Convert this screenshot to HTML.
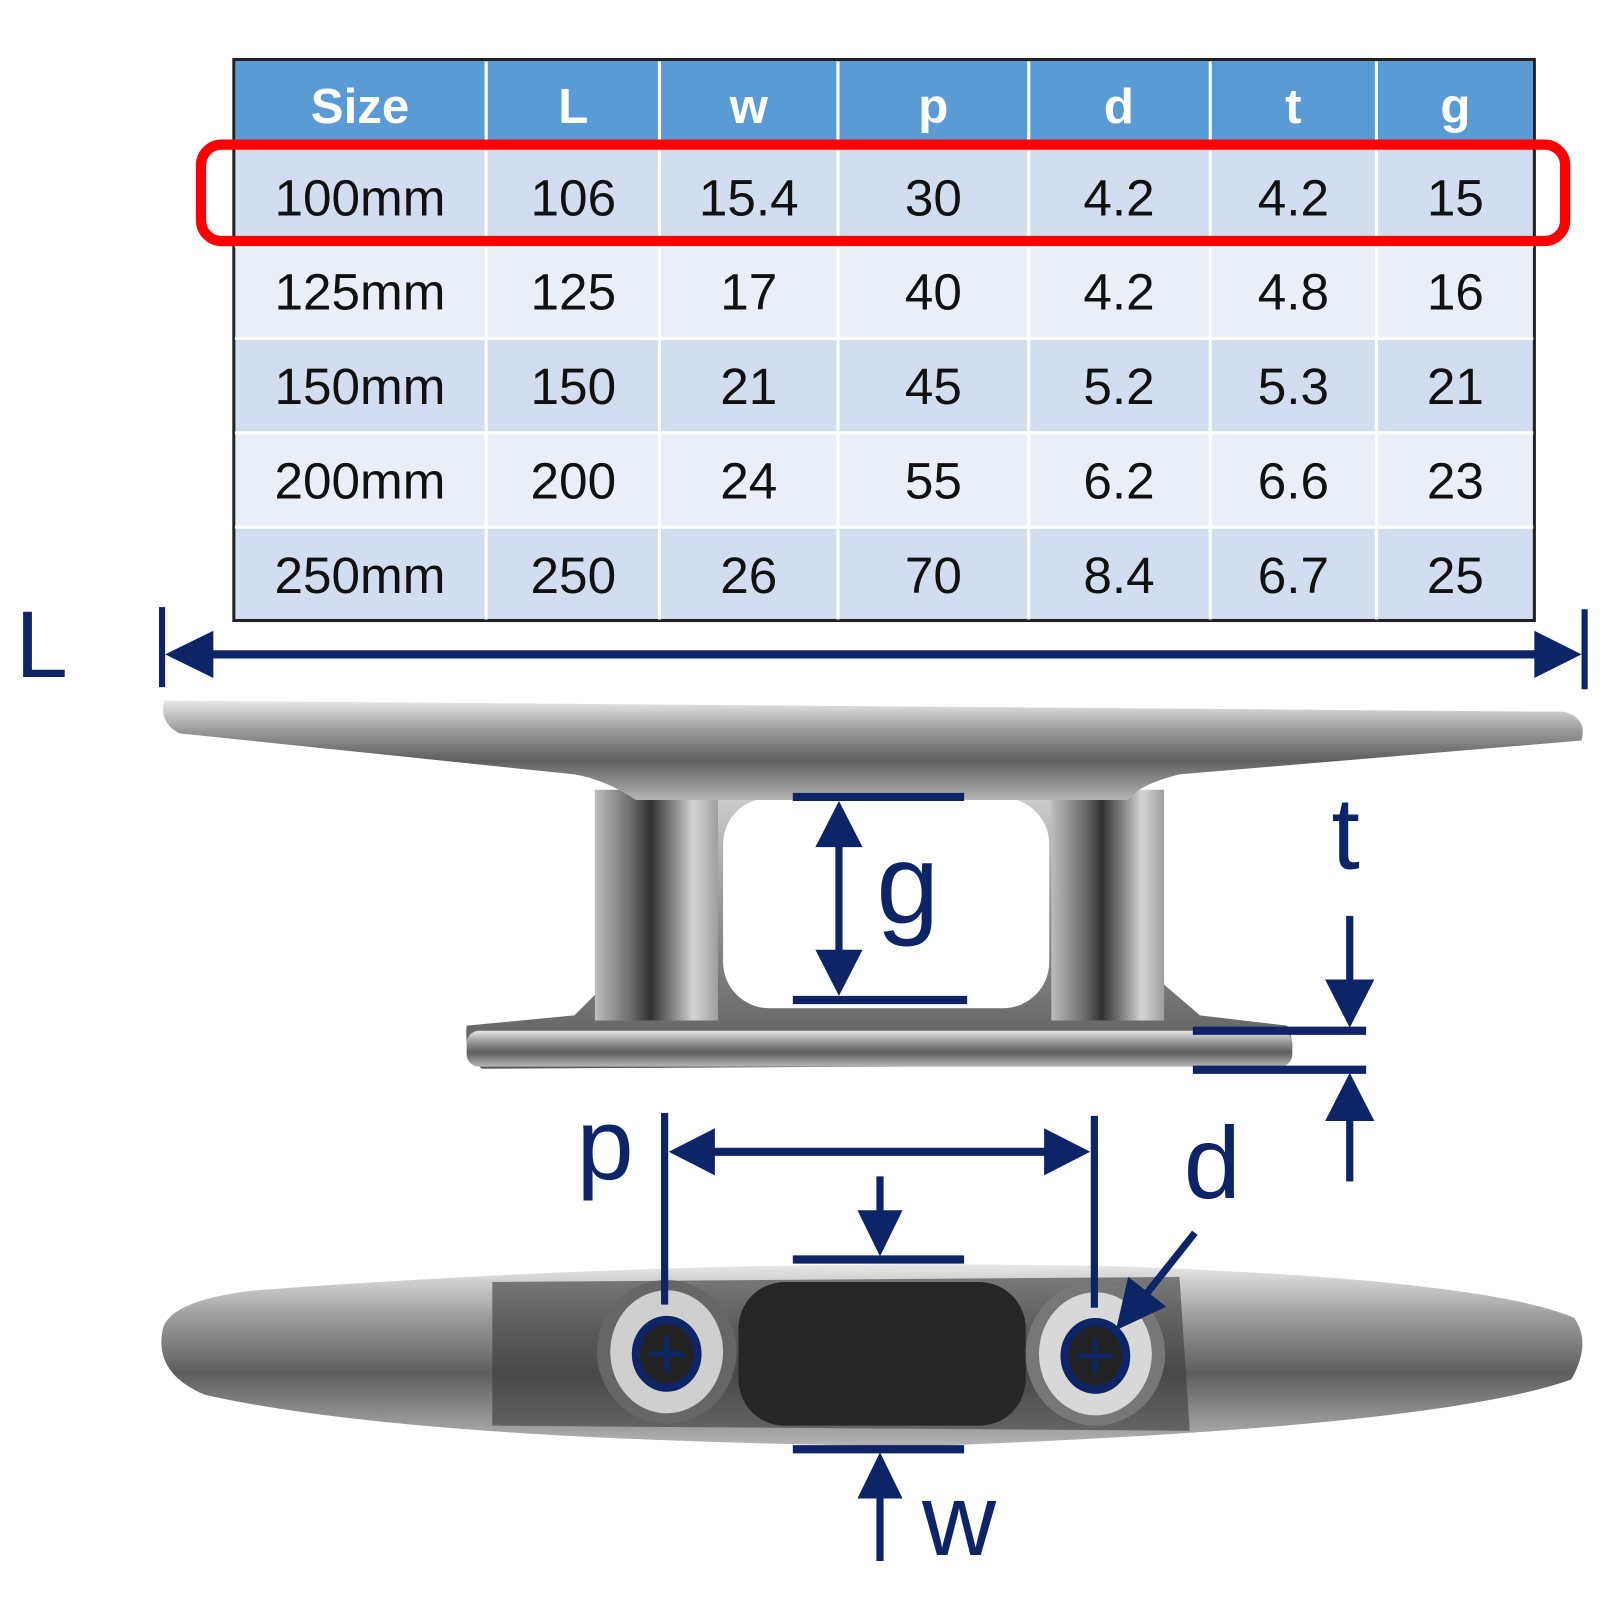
<!DOCTYPE html>
<html><head><meta charset="utf-8"><style>
html,body{margin:0;padding:0;background:#fff;}
svg{display:block;}
text{font-family:"Liberation Sans",sans-serif;}
</style></head><body>
<svg width="1600" height="1600" viewBox="0 0 1560 1560" xmlns="http://www.w3.org/2000/svg">
<defs>
<linearGradient id="m1" x1="0" y1="0" x2="0" y2="1">
<stop offset="0" stop-color="#e8e8e8"/><stop offset="0.3" stop-color="#9a9a9a"/><stop offset="0.6" stop-color="#5e5e5e"/><stop offset="1" stop-color="#b5b5b5"/></linearGradient>
<linearGradient id="m2" x1="0" y1="0" x2="1" y2="0">
<stop offset="0" stop-color="#bdbdbd"/><stop offset="0.3" stop-color="#6a6a6a"/><stop offset="0.45" stop-color="#303030"/><stop offset="0.65" stop-color="#8a8a8a"/><stop offset="0.8" stop-color="#d5d5d5"/><stop offset="1" stop-color="#9e9e9e"/></linearGradient>
<linearGradient id="m3" x1="0" y1="0" x2="0" y2="1">
<stop offset="0" stop-color="#d0d0d0"/><stop offset="0.5" stop-color="#8d8d8d"/><stop offset="1" stop-color="#5a5a5a"/></linearGradient>
</defs>

<!-- table -->
<rect x="228" y="58" width="1268" height="547" fill="#d2deef" stroke="#222" stroke-width="3"/>
<rect x="229.5" y="59.5" width="1265" height="78" fill="#5b9bd5"/>
<rect x="229.5" y="240" width="1265" height="90" fill="#eaeff7"/>
<rect x="229.5" y="422" width="1265" height="92" fill="#eaeff7"/>
<g stroke="#fff" stroke-width="3">
<line x1="229" y1="138" x2="1495" y2="138"/>
<line x1="229" y1="240" x2="1495" y2="240"/>
<line x1="229" y1="330" x2="1495" y2="330"/>
<line x1="229" y1="422" x2="1495" y2="422"/>
<line x1="229" y1="514" x2="1495" y2="514"/>
<line x1="474" y1="60" x2="474" y2="604"/>
<line x1="643" y1="60" x2="643" y2="604"/>
<line x1="817" y1="60" x2="817" y2="604"/>
<line x1="1003" y1="60" x2="1003" y2="604"/>
<line x1="1180" y1="60" x2="1180" y2="604"/>
<line x1="1342" y1="60" x2="1342" y2="604"/>
</g>
<g font-size="48" font-weight="bold" fill="#fff" text-anchor="middle">
<text x="351" y="120">Size</text><text x="559" y="120">L</text><text x="730" y="120">w</text><text x="910" y="120">p</text><text x="1091" y="120">d</text><text x="1261" y="120">t</text><text x="1419" y="120">g</text>
</g>
<g font-size="50" fill="#111" text-anchor="middle">
<text x="351" y="210">100mm</text><text x="559" y="210">106</text><text x="730" y="210">15.4</text><text x="910" y="210">30</text><text x="1091" y="210">4.2</text><text x="1261" y="210">4.2</text><text x="1419" y="210">15</text>
<text x="351" y="302">125mm</text><text x="559" y="302">125</text><text x="730" y="302">17</text><text x="910" y="302">40</text><text x="1091" y="302">4.2</text><text x="1261" y="302">4.8</text><text x="1419" y="302">16</text>
<text x="351" y="394">150mm</text><text x="559" y="394">150</text><text x="730" y="394">21</text><text x="910" y="394">45</text><text x="1091" y="394">5.2</text><text x="1261" y="394">5.3</text><text x="1419" y="394">21</text>
<text x="351" y="486">200mm</text><text x="559" y="486">200</text><text x="730" y="486">24</text><text x="910" y="486">55</text><text x="1091" y="486">6.2</text><text x="1261" y="486">6.6</text><text x="1419" y="486">23</text>
<text x="351" y="578">250mm</text><text x="559" y="578">250</text><text x="730" y="578">26</text><text x="910" y="578">70</text><text x="1091" y="578">8.4</text><text x="1261" y="578">6.7</text><text x="1419" y="578">25</text>
</g>
<rect x="196" y="141" width="1330" height="94" rx="20" fill="none" stroke="#f00" stroke-width="10"/>

<!-- cleat side view -->
<path d="M455,1000 L560,990 L590,960 L580,780 L700,770 L1030,770 L1130,780 L1135,960 L1170,990 L1255,1000 Q1265,1020 1255,1038 L470,1042 Q452,1030 455,1000Z" fill="url(#m3)"/>
<rect x="580" y="770" width="120" height="225" fill="url(#m2)"/>
<rect x="1025" y="770" width="110" height="225" fill="url(#m2)"/>
<rect x="705" y="778" width="318" height="205" rx="45" fill="#fff"/>
<rect x="455" y="1005" width="805" height="35" rx="12" fill="url(#m1)"/>
<path d="M160,683 L1525,694 Q1548,700 1542,722 L1150,755 Q1110,765 1100,780 L620,780 Q590,760 560,755 L175,715 Q155,705 160,683Z" fill="url(#m1)"/>

<!-- cleat top view -->
<path d="M158,1300 Q160,1268 250,1258 Q700,1225 1100,1235 Q1450,1248 1535,1285 Q1552,1310 1532,1345 Q1400,1392 900,1410 Q400,1405 200,1360 Q152,1340 158,1300Z" fill="url(#m1)"/>
<path d="M480,1250 L1150,1245 L1160,1395 L480,1390Z" fill="#3a3a3a" opacity="0.6"/>
<rect x="720" y="1250" width="280" height="140" rx="45" fill="#262626"/>
<ellipse cx="650" cy="1318" rx="68" ry="70" fill="#666"/>
<ellipse cx="650" cy="1318" rx="55" ry="60" fill="#cfcfcf"/>
<ellipse cx="1068" cy="1320" rx="68" ry="70" fill="#777"/>
<ellipse cx="1068" cy="1320" rx="55" ry="60" fill="#d8d8d8"/>

<!-- navy annotations -->
<g fill="#0d2466" stroke="#0d2466">
<text x="15" y="660" font-size="92" stroke="none">L</text>
<line x1="158" y1="592" x2="158" y2="670" stroke-width="6"/>
<line x1="1545" y1="594" x2="1545" y2="672" stroke-width="6"/>
<line x1="200" y1="638" x2="1505" y2="638" stroke-width="8"/>
<polygon points="161,638 208,615 208,661" stroke="none"/>
<polygon points="1542,638 1496,615 1496,661" stroke="none"/>

<line x1="773" y1="777" x2="940" y2="777" stroke-width="8"/>
<line x1="773" y1="975" x2="943" y2="975" stroke-width="8"/>
<line x1="818" y1="815" x2="818" y2="935" stroke-width="7"/>
<polygon points="818,781 795,826 841,826" stroke="none"/>
<polygon points="818,971 795,926 841,926" stroke="none"/>
<text x="885" y="900" font-size="110" text-anchor="middle" stroke="none">g</text>

<text x="1312" y="847" font-size="100" text-anchor="middle" stroke="none">t</text>
<line x1="1316" y1="893" x2="1316" y2="965" stroke-width="7"/>
<polygon points="1316,1002 1292,955 1340,955" stroke="none"/>
<line x1="1163" y1="1005" x2="1332" y2="1005" stroke-width="8"/>
<line x1="1163" y1="1043" x2="1332" y2="1043" stroke-width="8"/>
<polygon points="1316,1046 1292,1093 1340,1093" stroke="none"/>
<line x1="1316" y1="1085" x2="1316" y2="1152" stroke-width="7"/>

<line x1="648" y1="1085" x2="648" y2="1272" stroke-width="7"/>
<line x1="1067" y1="1088" x2="1067" y2="1275" stroke-width="7"/>
<line x1="690" y1="1123" x2="1025" y2="1123" stroke-width="8"/>
<polygon points="652,1123 697,1100 697,1146" stroke="none"/>
<polygon points="1063,1123 1018,1100 1018,1146" stroke="none"/>
<text x="590" y="1150" font-size="100" text-anchor="middle" stroke="none">p</text>

<text x="1182" y="1168" font-size="100" text-anchor="middle" stroke="none">d</text>
<line x1="1165" y1="1202" x2="1115" y2="1265" stroke-width="7"/>
<polygon points="1088,1297 1100,1245 1137,1274" stroke="none"/>

<line x1="858" y1="1147" x2="858" y2="1190" stroke-width="7"/>
<polygon points="858,1225 836,1180 880,1180" stroke="none"/>
<line x1="773" y1="1228" x2="940" y2="1228" stroke-width="8"/>
<line x1="773" y1="1413" x2="940" y2="1413" stroke-width="8"/>
<polygon points="858,1416 836,1461 880,1461" stroke="none"/>
<line x1="858" y1="1455" x2="858" y2="1522" stroke-width="7"/>
<text x="935" y="1516" font-size="100" text-anchor="middle" stroke="none">w</text>

<ellipse cx="650" cy="1320" rx="30" ry="33" fill="#222" stroke-width="8"/>
<line x1="650" y1="1303" x2="650" y2="1337" stroke-width="5"/>
<line x1="633" y1="1320" x2="667" y2="1320" stroke-width="5"/>
<ellipse cx="1068" cy="1322" rx="30" ry="33" fill="#222" stroke-width="8"/>
<line x1="1068" y1="1305" x2="1068" y2="1339" stroke-width="5"/>
<line x1="1051" y1="1322" x2="1085" y2="1322" stroke-width="5"/>
</g>
</svg>
</body></html>
